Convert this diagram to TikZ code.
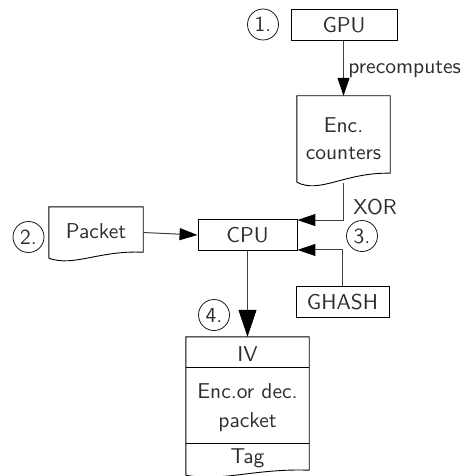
\documentclass[tikz,border=0pt]{standalone}
\usepackage{fontspec}
\setsansfont{lmsans10-regular.otf}
\usetikzlibrary{arrows.meta,calc}
\begin{document}
\begin{tikzpicture}[x=1pt,y=-1pt,
  font=\sffamily\fontsize{21.5}{25}\selectfont,
  txt/.style={text=black!82},
  box/.style={draw=black,line width=0.9pt,minimum height=31pt,inner sep=0pt,txt},
  num/.style={draw=black!90,line width=0.8pt,circle,minimum size=31pt,inner sep=0pt,txt},
  conn/.style={draw=black!75,line width=1pt,-{Triangle[length=18pt,width=12pt,fill=black,color=black]}},
  bigconn/.style={draw=black!75,line width=1pt,-{Triangle[length=27pt,width=18pt,fill=black,color=black]}},
  docline/.style={draw=black,line width=0.9pt}]
\useasboundingbox (0,0) rectangle (465,476);

% GPU
\node[box,minimum width=106pt] (gpu) at (344,25) {GPU};
\node[num] (n1) at (263,24.5) {1.};

% Enc. counters document
\node[minimum width=93pt,minimum height=86pt,inner sep=0pt] (encc) at (343.5,139) {};
\node[txt] (encct1) at (343.5,125) {Enc.};
\node[txt] (encct2) at (343.5,153) {counters};
\draw[docline] (encc.south west) -- (encc.north west) -- (encc.north east) -- ($(encc.south east)+(0,-9)$)
  .. controls ($(encc.south west)+(48,-10)$) and ($(encc.south west)+(23,12)$) .. (encc.south west);
\coordinate (enccb) at ($(encc.south)+(0,1)$);

% Packet document
\node[minimum width=94pt,minimum height=51pt,inner sep=0pt] (pkt) at (96,232.5) {};
\node[txt] (pktt) at (96,231) {Packet};
\draw[docline] (pkt.south west) -- (pkt.north west) -- (pkt.north east) -- ($(pkt.south east)+(0,-6)$)
  .. controls ($(pkt.south west)+(50,-8)$) and ($(pkt.south west)+(25,9)$) .. (pkt.south west);
\node[num] (n2) at (28.5,237) {2.};

% CPU
\node[box,minimum width=99pt] (cpu) at (247.5,235) {CPU};

% GHASH
\node[box,minimum width=93pt] (ghash) at (342.5,302) {GHASH};
\node[num] (n3) at (362,236) {3.};

% Output document
\node[minimum width=123pt,minimum height=138pt,inner sep=0pt] (out) at (247.5,406) {};
\draw[docline] (out.south west) -- (out.north west) -- (out.north east) -- ($(out.south east)+(0,-5)$)
  .. controls ($(out.south west)+(70,-7)$) and ($(out.south west)+(35,7)$) .. (out.south west);
\coordinate (d1w) at (186,367); \coordinate (d1e) at (309,367);
\coordinate (d2w) at (186,443); \coordinate (d2e) at (309,443);
\draw[docline] (d1w) -- (d1e);
\draw[docline] (d2w) -- (d2e);
\node[txt] (iv) at (247.5,354) {IV};
\node[txt] (encdec) at (247.5,391) {Enc.or dec.};
\node[txt] (pk2) at (247.5,422) {packet};
\node[txt] (tag) at (247.5,458) {Tag};
\node[num] (n4) at (214,315) {4.};

% connectors
\draw[conn] (gpu.south -| encc.north) -- node[right,txt,xshift=1pt,yshift=-1pt] (pre) {precomputes} (encc.north);
\draw[conn] (enccb) |- ($(cpu.north east)+(0,1)$);
\node[txt] (xor) at (375,207) {XOR};
\draw[conn] (ghash.north) |- ($(cpu.south east)+(0,-1)$);
\draw[conn] (pkt.east) -- (cpu.west);
\draw[bigconn] (cpu.south) -- (out.north -| cpu.south);
\end{tikzpicture}
\end{document}
